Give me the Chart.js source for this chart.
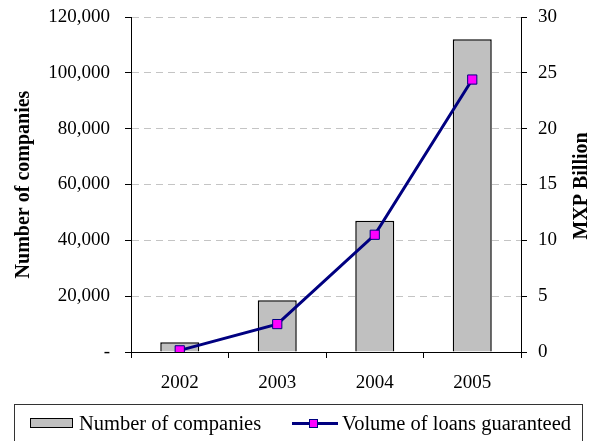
<!DOCTYPE html>
<html>
<head>
<meta charset="utf-8">
<script src="https://cdn.jsdelivr.net/npm/chart.js@4/dist/chart.umd.min.js"></script>
<style>
  html, body { margin: 0; padding: 0; background: #fff; }
  #wrap { position: relative; width: 590px; height: 441px; overflow: hidden; }
  #legend { position: absolute; left: 14px; top: 404px; width: 569px; height: 60px;
            border: 1px solid #333; box-sizing: border-box; }
  .lg { position: absolute; font-family: "Liberation Serif", serif; font-size: 20.5px;
        line-height: 20.5px; color: #000; white-space: nowrap; }
  #swBar { position: absolute; left: 30px; top: 418px; width: 43px; height: 10px;
           background: #c0c0c0; border: 1.5px solid #000; box-sizing: border-box; }
  #swLine { position: absolute; left: 292px; top: 422px; width: 46px; height: 3px; background: #000080; }
  #swMark { position: absolute; left: 309px; top: 419px; width: 9px; height: 9px;
            background: #ff00ff; border: 1px solid #000080; box-sizing: border-box; }
</style>
</head>
<body>
<div id="wrap">
  <canvas id="chart" width="590" height="441"></canvas>
  <div id="legend"></div>
  <div id="swBar"></div>
  <span class="lg" style="left:79px; top:413px;">Number of companies</span>
  <div id="swLine"></div>
  <div id="swMark"></div>
  <span class="lg" style="left:342px; top:413px;">Volume of loans guaranteed</span>
</div>
<script>
// values
const years = ['2002', '2003', '2004', '2005'];
const companies = [3500, 18500, 47000, 112000];
const loansBillion = [0.15, 2.5, 10.5, 24.4];

Chart.defaults.font.family = '"Liberation Serif", serif';
Chart.defaults.color = '#000';

// right axis title reads bottom-to-top, so draw it by hand
const rightTitle = {
    id: 'rightTitle',
    afterDraw(chart) {
        const c = chart.ctx;
        c.save();
        c.translate(582, 186);
        c.rotate(-Math.PI / 2);
        c.font = 'bold 20px "Liberation Serif", serif';
        c.fillStyle = '#000';
        c.textAlign = 'center';
        c.textBaseline = 'middle';
        c.fillText('MXP Billion', 0, 0);
        c.restore();
    }
};

const ctx = document.getElementById('chart').getContext('2d');
new Chart(ctx, {
    data: {
        labels: years,
        datasets: [{
            type: 'line',
            label: 'Volume of loans guaranteed',
            data: loansBillion,
            yAxisID: 'yRight',
            borderColor: '#000080',
            borderWidth: 3,
            pointStyle: 'rect',
            pointRadius: 6.5,
            pointBackgroundColor: '#ff00ff',
            pointBorderColor: '#000080',
            pointBorderWidth: 1,
            tension: 0,
            order: 0
        }, {
            type: 'bar',
            label: 'Number of companies',
            data: companies,
            yAxisID: 'yLeft',
            backgroundColor: '#c0c0c0',
            borderColor: '#000',
            borderWidth: 1.5,
            barPercentage: 0.4,
            categoryPercentage: 1,
            order: 1
        }]
    },
    options: {
        responsive: false,
        animation: false,
        layout: { padding: { top: 17, bottom: 41, left: 0, right: 0 } },
        plugins: {
            legend: { display: false },
            tooltip: { enabled: false }
        },
        scales: {
            x: {
                grid: { offset: true, drawOnChartArea: false, color: '#000', tickLength: 6 },
                border: { color: '#000', width: 1 },
                ticks: { font: { size: 19 }, padding: 14 },
                afterFit(scale) { scale.height = 48; }
            },
            yLeft: {
                position: 'left',
                min: 0,
                max: 120000,
                ticks: {
                    stepSize: 20000,
                    font: { size: 19 },
                    padding: 15,
                    callback: v => v === 0 ? '-' : v.toLocaleString('en-US')
                },
                grid: {
                    color: c => c.tick && c.tick.value === 0 ? 'rgba(0,0,0,0)' : '#c4c4c4',
                    tickColor: '#000',
                    tickLength: 6
                },
                border: { color: '#000', width: 1, dash: [7, 5] },
                title: {
                    display: true,
                    text: 'Number of companies',
                    font: { size: 20, weight: 'bold' },
                    padding: { top: 12, bottom: 0 }
                },
                afterFit(scale) {
                    scale.width = 131;
                    scale.paddingTop = 0;
                    scale.paddingBottom = 0;
                }
            },
            yRight: {
                position: 'right',
                min: 0,
                max: 30,
                ticks: { stepSize: 5, font: { size: 19 }, padding: 11 },
                grid: { drawOnChartArea: false, color: '#000', tickLength: 6 },
                border: { color: '#000', width: 1 },
                afterFit(scale) {
                    scale.width = 69;
                    scale.paddingTop = 0;
                    scale.paddingBottom = 0;
                }
            }
        }
    },
    plugins: [rightTitle]
});
</script>
</body>
</html>
